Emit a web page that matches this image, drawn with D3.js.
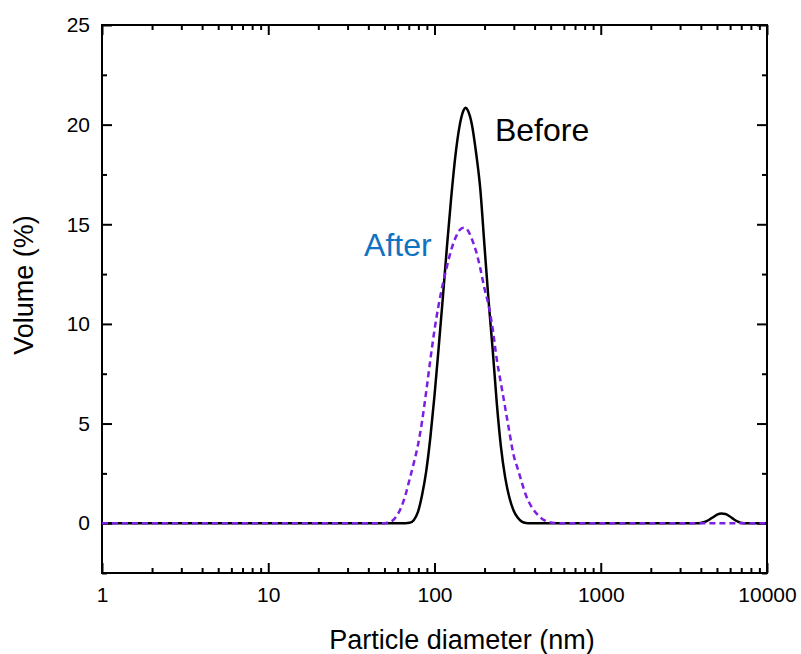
<!DOCTYPE html>
<html>
<head>
<meta charset="utf-8">
<script src="https://cdn.jsdelivr.net/npm/d3@7"></script>
<style>
  body { margin: 0; background: #fff; }
  text { font-family: "Liberation Sans", Arial, sans-serif; }
</style>
</head>
<body>
<svg id="chart"></svg>
<script>

// Particle diameters (nm) where the distributions were read
const sizes = [1, 10, 30,
    44.67, 47.32, 50.12, 53.09, 56.23, 59.57, 63.10, 66.83, 70.79, 74.99,
    79.43, 84.14, 89.13, 94.41, 100.0, 105.9, 112.2, 118.9, 125.9, 133.4,
    141.3, 149.6, 154.0, 158.5, 167.9, 177.8, 188.4, 199.5, 211.3, 223.9, 237.1,
    251.2, 266.1, 281.8, 298.5, 316.2, 335.0, 354.8, 375.8, 398.1, 421.7,
    446.7, 473.2, 501.2, 530.9, 562.3, 595.7, 631.0,
    1000, 3000,
    3548, 3758, 3981, 4217, 4467, 4732, 5012, 5309, 5623, 5957, 6310, 6683, 7079, 7499,
    8000, 10000];

// Volume (%) before treatment
const before = [0, 0, 0,
    0, 0, 0, 0, 0, 0, 0, 0, 0.02, 0.15,
    0.55, 1.4, 2.6, 4.3, 6.4, 8.8, 11.3, 13.9, 16.3, 18.4,
    19.9, 20.72, 20.85, 20.72, 20.0, 18.6, 16.8, 14.0, 11.2, 8.7, 6.0,
    3.8, 2.3, 1.3, 0.65, 0.28, 0.08, 0.01, 0, 0, 0,
    0, 0, 0, 0, 0, 0, 0,
    0, 0,
    0, 0, 0.01, 0.06, 0.16, 0.3, 0.43, 0.49, 0.46, 0.35, 0.2, 0.08, 0.01, 0,
    0, 0];

// Volume (%) after treatment
const after = [0, 0, 0,
    0, 0, 0, 0.05, 0.15, 0.4, 0.8, 1.4, 2.2, 3.0,
    3.9, 5.1, 6.6, 8.2, 9.7, 10.95, 12.0, 12.9, 13.7, 14.3,
    14.7, 14.82, 14.8, 14.7, 14.25, 13.65, 12.8, 11.8, 10.95, 9.75, 8.2,
    7.0, 5.8, 4.6, 3.45, 2.75, 2.05, 1.4, 0.95, 0.62, 0.38,
    0.2, 0.09, 0.03, 0.01, 0, 0, 0,
    0, 0,
    0, 0, 0, 0, 0, 0, 0, 0, 0, 0, 0, 0, 0, 0,
    0, 0];

const xTicks = [1, 10, 100, 1000, 10000];
const yTicks = [0, 5, 10, 15, 20, 25];

const W = 801, H = 654;
const margin = { top: 25, right: 34, bottom: 81, left: 102 };

const svg = d3.select("#chart")
    .attr("width", W)
    .attr("height", H);

const x = d3.scaleLog()
    .domain([1, 10000])
    .range([margin.left, W - margin.right]);

const y = d3.scaleLinear()
    .domain([-2.5, 25])
    .range([H - margin.bottom, margin.top]);

const xMinor = x.ticks().filter(d => xTicks.indexOf(d) < 0);
const yMinor = d3.range(-2.5, 25, 5);

function styleAxis(g) {
    g.select(".domain").remove();
    g.selectAll("line").attr("stroke", "#000").attr("stroke-width", 2);
    g.selectAll("text")
        .attr("fill", "#000")
        .style("font-size", "21px");
}

// bottom axis
svg.append("g")
    .attr("transform", "translate(0," + y(-2.5) + ")")
    .call(d3.axisBottom(x).tickValues(xTicks).tickFormat(d3.format("d"))
        .tickSizeInner(-10).tickSizeOuter(0).tickPadding(14))
    .call(styleAxis);
svg.append("g")
    .attr("transform", "translate(0," + y(-2.5) + ")")
    .call(d3.axisBottom(x).tickValues(xMinor).tickFormat("")
        .tickSizeInner(-5).tickSizeOuter(0))
    .call(styleAxis);

// top axis (mirror)
svg.append("g")
    .attr("transform", "translate(0," + y(25) + ")")
    .call(d3.axisTop(x).tickValues(xTicks).tickFormat("")
        .tickSizeInner(-10).tickSizeOuter(0))
    .call(styleAxis);
svg.append("g")
    .attr("transform", "translate(0," + y(25) + ")")
    .call(d3.axisTop(x).tickValues(xMinor).tickFormat("")
        .tickSizeInner(-5).tickSizeOuter(0))
    .call(styleAxis);

// left axis
svg.append("g")
    .attr("transform", "translate(" + x(1) + ",0)")
    .call(d3.axisLeft(y).tickValues(yTicks)
        .tickSizeInner(-10).tickSizeOuter(0).tickPadding(12))
    .call(styleAxis);
svg.append("g")
    .attr("transform", "translate(" + x(1) + ",0)")
    .call(d3.axisLeft(y).tickValues(yMinor).tickFormat("")
        .tickSizeInner(-5).tickSizeOuter(0))
    .call(styleAxis);

// right axis (mirror)
svg.append("g")
    .attr("transform", "translate(" + x(10000) + ",0)")
    .call(d3.axisRight(y).tickValues(yTicks).tickFormat("")
        .tickSizeInner(-10).tickSizeOuter(0))
    .call(styleAxis);
svg.append("g")
    .attr("transform", "translate(" + x(10000) + ",0)")
    .call(d3.axisRight(y).tickValues(yMinor).tickFormat("")
        .tickSizeInner(-5).tickSizeOuter(0))
    .call(styleAxis);

// frame
svg.append("rect")
    .attr("x", x(1))
    .attr("y", y(25))
    .attr("width", x(10000) - x(1))
    .attr("height", y(-2.5) - y(25))
    .attr("fill", "none")
    .attr("stroke", "#000")
    .attr("stroke-width", 2);

const line = d3.line()
    .x(d => x(d[0]))
    .y(d => y(d[1]))
    .curve(d3.curveMonotoneX);

svg.append("path")
    .datum(sizes.map((s, i) => [s, before[i]]))
    .attr("fill", "none")
    .attr("stroke", "#000")
    .attr("stroke-width", 2.5)
    .attr("d", line);

svg.append("path")
    .datum(sizes.map((s, i) => [s, after[i]]))
    .attr("fill", "none")
    .attr("stroke", "#7a1fe3")
    .attr("stroke-width", 2.5)
    .attr("stroke-dasharray", "6,4")
    .attr("d", line);

// series labels
svg.append("text")
    .attr("x", x(231))
    .attr("y", y(19.2))
    .attr("fill", "#000")
    .style("font-size", "32px")
    .text("Before");

svg.append("text")
    .attr("x", x(37.7))
    .attr("y", y(13.4))
    .attr("fill", "#0f73c1")
    .style("font-size", "32px")
    .text("After");

// axis titles
svg.append("text")
    .attr("x", 462)
    .attr("y", 649)
    .attr("text-anchor", "middle")
    .attr("fill", "#000")
    .style("font-size", "27px")
    .text("Particle diameter (nm)");

svg.append("text")
    .attr("transform", "translate(33,285) rotate(-90)")
    .attr("text-anchor", "middle")
    .attr("fill", "#000")
    .style("font-size", "27px")
    .text("Volume (%)");

</script>
</body>
</html>
